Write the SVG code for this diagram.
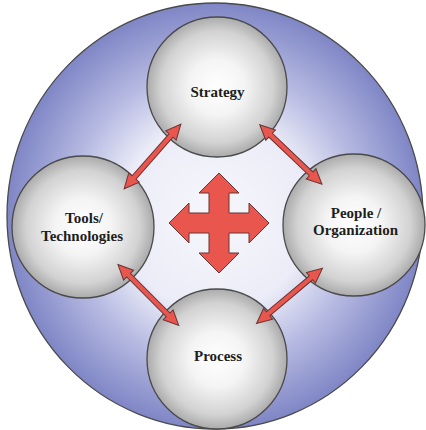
<svg xmlns="http://www.w3.org/2000/svg" width="426" height="430" viewBox="0 0 426 430">
  <defs>
    <radialGradient id="bigGrad" cx="0.5" cy="0.5" r="0.5">
      <stop offset="0" stop-color="#f7f7fc"/>
      <stop offset="0.45" stop-color="#ebecf7"/>
      <stop offset="0.7" stop-color="#b6bae2"/>
      <stop offset="1" stop-color="#7f86c5"/>
    </radialGradient>
    <radialGradient id="ballGrad" cx="0.5" cy="0.5" r="0.5">
      <stop offset="0" stop-color="#ffffff"/>
      <stop offset="0.4" stop-color="#f4f4f4"/>
      <stop offset="0.8" stop-color="#d2d2d2"/>
      <stop offset="1" stop-color="#ababab"/>
    </radialGradient>
    <path id="dbl" d="M -43 0 L -28 -7 L -28 -2.6 L 28 -2.6 L 28 -7 L 43 0 L 28 7 L 28 2.6 L -28 2.6 L -28 7 Z"/>
  </defs>
  <style>
    .ball { fill: url(#ballGrad); stroke: #4a4a4a; stroke-width: 1.3; }
    .lbl { font-family: "Liberation Serif", "Times New Roman", serif; font-weight: bold; font-size: 15px; fill: #1e1e1e; text-anchor: middle; }
    .arr { fill: #e8564e; stroke: #6a3434; stroke-width: 1; stroke-linejoin: miter; }
  </style>
  <rect width="426" height="430" fill="#ffffff"/>
  <g id="background">
    <ellipse cx="215" cy="216" rx="208" ry="213" fill="url(#bigGrad)" stroke="#4a4a4a" stroke-width="1.3"/>
  </g>
  <g id="center-cross">
    <polygon class="arr" points="219,173 239,193 229,193 229,213 249,213 249,203 269,223 249,243 249,233 229,233 229,253 239,253 219,273 199,253 209,253 209,233 189,233 189,243 169,223 189,203 189,213 209,213 209,193 199,193"/>
  </g>
  <g id="strategy">
    <circle class="ball" cx="217" cy="87" r="70"/>
    <text class="lbl" x="217.5" y="97">Strategy</text>
  </g>
  <g id="tools">
    <circle class="ball" cx="83" cy="227" r="71"/>
    <text class="lbl" x="84" y="223">Tools/</text>
    <text class="lbl" x="82" y="240.5">Technologies</text>
  </g>
  <g id="people">
    <circle class="ball" cx="354" cy="225" r="71"/>
    <text class="lbl" x="356" y="218">People /</text>
    <text class="lbl" x="355.5" y="235">Organization</text>
  </g>
  <g id="process">
    <circle class="ball" cx="217" cy="359" r="70"/>
    <text class="lbl" x="218" y="361">Process</text>
  </g>
  <g id="connectors">
    <use href="#dbl" class="arr" transform="translate(152.5,156.5) rotate(-48.75)"/>
    <use href="#dbl" class="arr" transform="translate(290.85,154.5) rotate(43.7)"/>
    <use href="#dbl" class="arr" transform="translate(148.35,295) rotate(45.05)"/>
    <use href="#dbl" class="arr" transform="translate(289.5,295.8) rotate(-39.98)"/>
  </g>
</svg>
